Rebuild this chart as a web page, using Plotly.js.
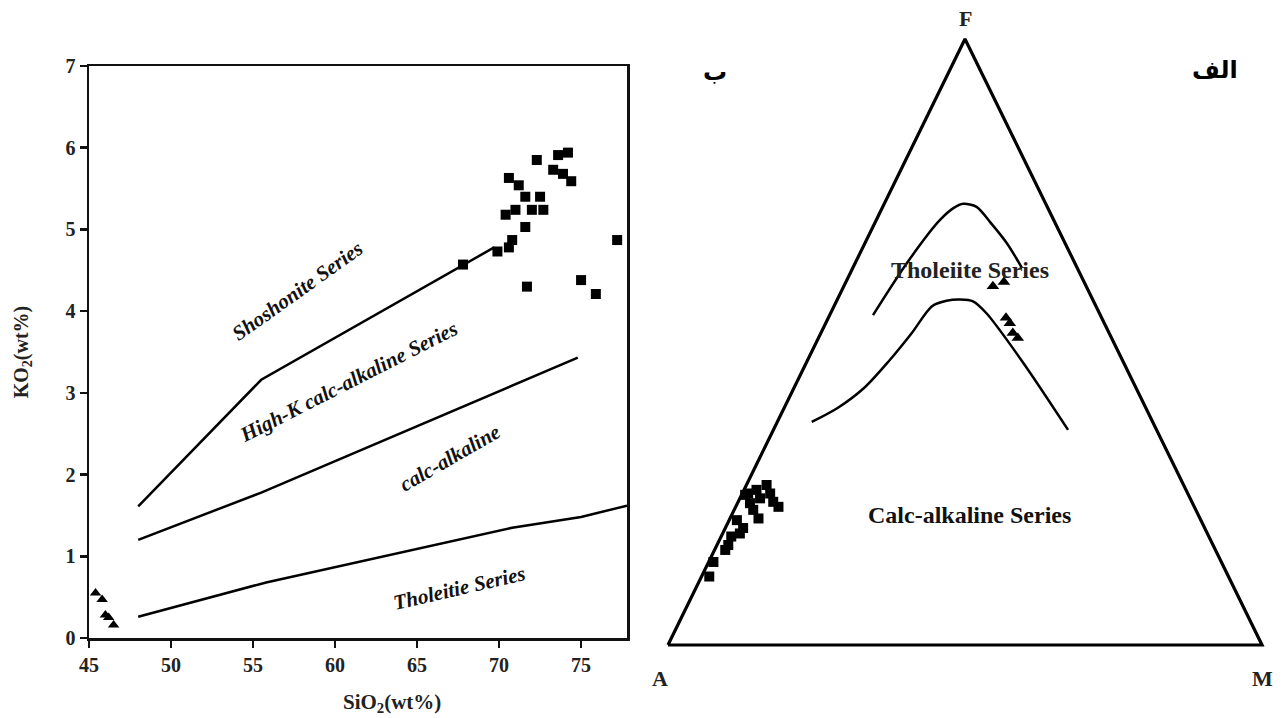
<!DOCTYPE html>
<html>
<head>
<meta charset="utf-8">
<script src="https://cdn.plot.ly/plotly-3.0.1.min.js"></script>
<style>html,body{margin:0;padding:0;background:#fff;}#chart{width:1282px;height:718px;}</style>
</head>
<body>
<div id="chart"></div>
<script>
// ---------- Left panel: SiO2 vs K2O ----------
const sio2Squares = [72.3, 73.6, 74.2, 73.3, 73.9, 74.4, 70.6, 71.2, 71.6, 72.5, 70.4, 71.0, 72.0, 72.7, 71.6, 70.8, 70.6, 69.9, 67.8, 71.7, 75.0, 75.9, 77.2];
const k2oSquares  = [5.85, 5.91, 5.94, 5.73, 5.68, 5.59, 5.63, 5.54, 5.40, 5.40, 5.18, 5.24, 5.24, 5.24, 5.03, 4.87, 4.78, 4.73, 4.57, 4.30, 4.38, 4.21, 4.87];
const sio2Triangles = [45.4, 45.8, 46.0, 46.2, 46.5];
const k2oTriangles  = [0.55, 0.47, 0.28, 0.25, 0.16];

const shoshoniteBoundaryX = [48.0, 55.5, 69.7];
const shoshoniteBoundaryY = [1.61, 3.16, 4.78];
const highKBoundaryX = [48.0, 55.5, 74.8];
const highKBoundaryY = [1.20, 1.78, 3.43];
const tholeiiteBoundaryX = [48.0, 55.8, 70.8, 75.0, 77.8];
const tholeiiteBoundaryY = [0.26, 0.68, 1.35, 1.48, 1.62];

const xTickVals = [45, 50, 55, 60, 65, 70, 75];
const xTickText = ['45', '50', '55', '60', '65', '70', '75'];
const yTickVals = [0, 1, 2, 3, 4, 5, 6, 7];
const yTickText = ['0', '1', '2', '3', '4', '5', '6', '7'];

// ---------- Right panel: AFM ternary (A, F, M in %) ----------
const afmSquaresA = [87.4, 85.5, 81.6, 80.4, 78.7, 78.1, 77.7, 74.4, 74.5, 74.0, 72.3, 70.2, 72.4, 70.4, 70.0, 70.3, 74.5, 74.7, 82.6];
const afmSquaresF = [11.3, 13.7, 16.5, 17.9, 18.4, 20.6, 19.3, 20.9, 23.4, 25.0, 25.6, 26.4, 24.2, 23.6, 22.8, 25.0, 22.3, 24.8, 15.7];
const afmSquaresM = [1.3, 0.8, 1.9, 1.7, 2.9, 1.3, 3.0, 4.8, 2.1, 1.0, 2.1, 3.4, 3.4, 5.9, 7.2, 4.7, 3.2, 0.6, 1.8];

const afmTrianglesA = [15.7, 13.5, 16.1, 15.9, 16.2, 15.8];
const afmTrianglesF = [59.2, 59.9, 54.0, 53.1, 51.5, 50.7];
const afmTrianglesM = [25.1, 26.6, 29.9, 31.0, 32.3, 33.6];

const upperCurveA = [38.3, 28.3, 19.2, 15.9, 13.9, 11.9, 10.9, 9.8, 9.3];
const upperCurveF = [54.5, 63.0, 70.1, 72.1, 72.8, 72.3, 69.9, 66.3, 62.2];
const upperCurveM = [7.3, 8.7, 10.7, 12.0, 13.3, 15.8, 19.3, 23.9, 28.5];

const lowerCurveA = [57.4, 51.9, 45.8, 39.6, 33.2, 27.6, 24.7, 22.3, 20.3, 19.0, 16.9, 14.9];
const lowerCurveF = [36.8, 39.1, 42.4, 46.7, 51.5, 55.9, 56.8, 57.0, 56.7, 54.7, 46.5, 35.5];
const lowerCurveM = [5.8, 9.0, 11.8, 13.7, 15.3, 16.5, 18.5, 20.7, 23.0, 26.3, 36.6, 49.6];

const outlineA = [100, 0, 0, 100];
const outlineF = [0, 100, 0, 0];
const outlineM = [0, 0, 100, 0];

// ternary -> plane (A bottom-left, M bottom-right, F top)
function projX(A, F, M) { return A.map((a, i) => (M[i] + F[i] / 2) / (a + F[i] + M[i])); }
function projY(A, F, M) { return A.map((a, i) => F[i] / (a + F[i] + M[i])); }

const serif = 'Liberation Serif, Times New Roman, serif';
const lineStyle = {color: '#000', width: 2.5};

const traces = [
  {x: shoshoniteBoundaryX, y: shoshoniteBoundaryY, mode: 'lines', line: lineStyle, xaxis: 'x', yaxis: 'y', hoverinfo: 'skip'},
  {x: highKBoundaryX, y: highKBoundaryY, mode: 'lines', line: lineStyle, xaxis: 'x', yaxis: 'y', hoverinfo: 'skip'},
  {x: tholeiiteBoundaryX, y: tholeiiteBoundaryY, mode: 'lines', line: lineStyle, xaxis: 'x', yaxis: 'y', hoverinfo: 'skip'},
  {x: sio2Squares, y: k2oSquares, mode: 'markers', marker: {symbol: 'square', size: 10, color: '#000'}, xaxis: 'x', yaxis: 'y', cliponaxis: false},
  {x: sio2Triangles, y: k2oTriangles, mode: 'markers', marker: {symbol: 'triangle-up', size: 10, color: '#000'}, xaxis: 'x', yaxis: 'y', cliponaxis: false},

  {x: projX(outlineA, outlineF, outlineM), y: projY(outlineA, outlineF, outlineM), mode: 'lines', line: {color: '#000', width: 3.2}, xaxis: 'x2', yaxis: 'y2', hoverinfo: 'skip'},
  {x: projX(upperCurveA, upperCurveF, upperCurveM), y: projY(upperCurveA, upperCurveF, upperCurveM), mode: 'lines', line: {color: '#000', width: 2.5, shape: 'spline', smoothing: 0.8}, xaxis: 'x2', yaxis: 'y2', hoverinfo: 'skip'},
  {x: projX(lowerCurveA, lowerCurveF, lowerCurveM), y: projY(lowerCurveA, lowerCurveF, lowerCurveM), mode: 'lines', line: {color: '#000', width: 2.5, shape: 'spline', smoothing: 0.8}, xaxis: 'x2', yaxis: 'y2', hoverinfo: 'skip'},
  {x: projX(afmSquaresA, afmSquaresF, afmSquaresM), y: projY(afmSquaresA, afmSquaresF, afmSquaresM), mode: 'markers', marker: {symbol: 'square', size: 10, color: '#000'}, xaxis: 'x2', yaxis: 'y2', cliponaxis: false},
  {x: projX(afmTrianglesA, afmTrianglesF, afmTrianglesM), y: projY(afmTrianglesA, afmTrianglesF, afmTrianglesM), mode: 'markers', marker: {symbol: 'triangle-up', size: 11, color: '#000'}, xaxis: 'x2', yaxis: 'y2', cliponaxis: false}
];

const labelFont = {family: serif, size: 21, color: '#111'};
const arabicFont = {family: 'DejaVu Sans, Noto Sans Arabic, sans-serif', size: 24, color: '#000', weight: 'bold'};
const annotations = [
  {text: '<b><i>Shoshonite Series</i></b>', x: 57.7, y: 4.25, xref: 'x', yref: 'y', showarrow: false, textangle: -35.5, font: labelFont},
  {text: '<b><i>High-K calc-alkaline Series</i></b>', x: 60.8, y: 3.13, xref: 'x', yref: 'y', showarrow: false, textangle: -27, font: labelFont},
  {text: '<b><i>calc-alkaline</i></b>', x: 67.0, y: 2.20, xref: 'x', yref: 'y', showarrow: false, textangle: -30, font: labelFont},
  {text: '<b><i>Tholeitie Series</i></b>', x: 67.6, y: 0.61, xref: 'x', yref: 'y', showarrow: false, textangle: -13, font: labelFont},
  {text: '<b>SiO<sub>2</sub>(wt%)</b>', x: 392 / 1282, y: 1 - 703 / 718, xref: 'paper', yref: 'paper', xanchor: 'center', yanchor: 'middle', showarrow: false, font: {family: serif, size: 21, color: '#222'}},

  {text: '<b>Tholeiite Series</b>', x: 0.508, y: 0.619, xref: 'x2', yref: 'y2', showarrow: false, font: {family: serif, size: 24, color: '#222'}},
  {text: '<b>Calc-alkaline Series</b>', x: 0.508, y: 0.2145, xref: 'x2', yref: 'y2', showarrow: false, font: {family: serif, size: 24, color: '#111'}},
  {text: '<b>F</b>', x: 0.5, y: 1, xref: 'x2', yref: 'y2', showarrow: false, yshift: 21, font: {family: serif, size: 22, color: '#222'}},
  {text: '<b>A</b>', x: 0, y: 0, xref: 'x2', yref: 'y2', showarrow: false, xshift: -8, yshift: -34, font: {family: serif, size: 22, color: '#222'}},
  {text: '<b>M</b>', x: 1, y: 0, xref: 'x2', yref: 'y2', showarrow: false, xshift: 0, yshift: -34, font: {family: serif, size: 22, color: '#222'}},
  {text: 'ب', x: 715 / 1282, y: 1 - 72 / 718, xref: 'paper', yref: 'paper', xanchor: 'center', yanchor: 'middle', showarrow: false, font: arabicFont},
  {text: 'الف', x: 1215 / 1282, y: 1 - 70 / 718, xref: 'paper', yref: 'paper', xanchor: 'center', yanchor: 'middle', showarrow: false, font: arabicFont}
];

const tickFont = {family: serif, size: 20, color: '#222'};
const layout = {
  width: 1282, height: 718,
  margin: {l: 0, r: 0, t: 0, b: 0},
  paper_bgcolor: '#fff', plot_bgcolor: '#fff',
  showlegend: false,
  xaxis: {
    domain: [89 / 1282, 627 / 1282], range: [45, 77.8], tickvals: xTickVals,
    ticktext: xTickText.map(t => '<b>' + t + '</b>'),
    showline: true, mirror: true, linecolor: '#111', linewidth: 2.5,
    ticks: 'outside', ticklen: 7, tickwidth: 2.5, tickcolor: '#111',
    showgrid: false, zeroline: false, tickfont: tickFont, automargin: false
  },
  yaxis: {
    domain: [80 / 718, 652 / 718], range: [0, 7], tickvals: yTickVals,
    ticktext: yTickText.map(t => '<b>' + t + '</b>'),
    showline: true, mirror: true, linecolor: '#111', linewidth: 2.5,
    ticks: 'outside', ticklen: 7, tickwidth: 2.5, tickcolor: '#111',
    showgrid: false, zeroline: false, tickfont: tickFont, automargin: false,
    title: {text: '<b>KO<sub>2</sub>(wt%)</b>', font: {family: serif, size: 20, color: '#222'}, standoff: 32}
  },
  xaxis2: {
    domain: [656.1 / 1282, 1273.9 / 1282], range: [-0.02, 1.02],
    visible: false, showgrid: false, zeroline: false, anchor: 'y2', fixedrange: true
  },
  yaxis2: {
    domain: [60.9 / 718, 691.1 / 718], range: [-0.02, 1.02],
    visible: false, showgrid: false, zeroline: false, anchor: 'x2', fixedrange: true
  },
  annotations: annotations
};

Plotly.newPlot('chart', traces, layout, {displayModeBar: false, staticPlot: true});
</script>
</body>
</html>
